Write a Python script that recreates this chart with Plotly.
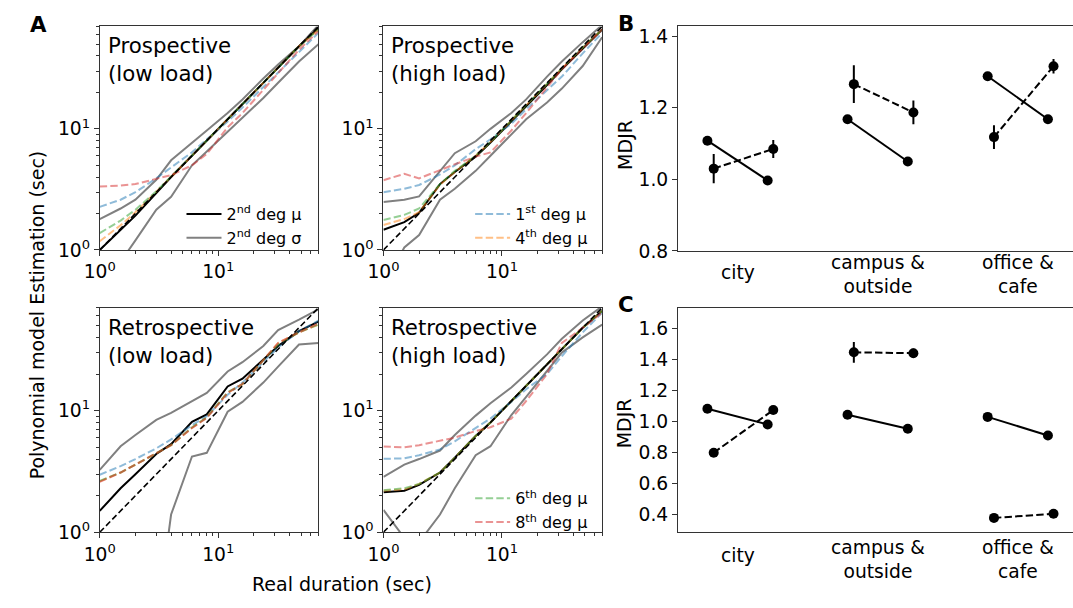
import plotly.graph_objects as go

W, H = 1073, 608
FONT = "DejaVu Sans"

# ---------------- data ----------------
durations = [1, 1.5, 2, 3, 4, 6, 8, 12, 16, 24, 32, 48, 70]

# Prospective (low load)
pl_mu2 = [1.0, 1.45, 1.92, 2.95, 4.0, 6.0, 8.0, 12.0, 16.0, 24.0, 32.0, 48.0, 68.0]
pl_hi = [1.8, 2.2, 2.6, 3.8, 5.5, 7.6, 9.7, 13.5, 17.5, 26.0, 34.0, 48.0, 72.0]
pl_lo = [0.5, 0.8, 1.2, 2.15, 2.75, 5.0, 6.5, 9.5, 12.2, 18.0, 24.0, 36.0, 50.0]
pl_d1 = [2.27, 2.6, 3.0, 3.9, 4.8, 6.4, 8.2, 11.5, 15.0, 22.0, 29.0, 43.0, 62.0]
pl_d4 = [1.18, 1.6, 2.05, 3.0, 4.0, 6.0, 8.0, 12.0, 16.0, 24.0, 32.0, 48.0, 66.0]
pl_d6 = [1.38, 1.75, 2.15, 3.05, 4.05, 6.0, 8.0, 12.0, 16.0, 24.0, 32.0, 48.0, 66.0]
pl_d8 = [3.34, 3.4, 3.5, 3.85, 4.15, 5.0, 6.2, 10.3, 13.5, 21.0, 29.0, 45.0, 64.0]

# Prospective (high load)
ph_mu2 = [1.47, 1.7, 2.03, 3.5, 4.4, 5.9, 7.7, 11.5, 15.5, 23.0, 31.0, 46.0, 66.0]
ph_hi = [2.49, 2.6, 2.77, 4.5, 6.3, 7.9, 10.0, 13.5, 17.5, 27.0, 36.0, 52.0, 72.0]
ph_lo = [0.5, 1.05, 1.33, 2.6, 3.2, 4.5, 6.0, 9.0, 12.0, 16.5, 21.5, 33.0, 57.0]
ph_d1 = [3.0, 3.2, 3.44, 4.2, 5.0, 6.8, 8.2, 11.0, 14.5, 21.0, 27.0, 42.0, 62.0]
ph_d4 = [1.61, 1.8, 2.05, 3.45, 4.4, 6.0, 7.8, 11.8, 15.8, 23.5, 31.5, 47.0, 66.0]
ph_d6 = [1.77, 1.95, 2.2, 3.5, 4.5, 6.0, 7.8, 11.8, 15.8, 23.5, 31.5, 47.0, 66.0]
ph_d8 = [3.77, 4.25, 3.9, 4.6, 5.1, 5.9, 6.4, 9.7, 13.5, 22.0, 31.0, 46.0, 66.0]

# Retrospective (low load)
rl_mu2 = [1.5, 2.3, 3.0, 4.4, 5.3, 8.1, 9.3, 15.8, 18.3, 26.0, 34.0, 45.0, 54.0]
rl_hi = [3.26, 5.1, 6.3, 8.4, 9.6, 12.0, 14.0, 21.0, 25.0, 34.0, 46.0, 56.0, 68.0]
rl_lo = [0.05, 0.08, 0.1, 0.17, 1.4, 4.2, 4.5, 9.8, 11.8, 17.0, 23.0, 35.0, 36.0]
rl_d1 = [2.97, 3.5, 4.0, 4.9, 5.8, 7.6, 9.0, 13.5, 17.0, 25.0, 33.0, 45.0, 55.0]
rl_d4 = [2.62, 3.1, 3.6, 4.5, 5.2, 7.2, 8.8, 14.0, 16.5, 26.0, 36.0, 44.0, 51.0]
rl_d6 = [2.65, 3.1, 3.6, 4.5, 5.2, 7.3, 8.8, 14.2, 16.5, 26.0, 35.0, 44.0, 51.0]
rl_d8 = [2.6, 3.1, 3.6, 4.5, 5.2, 7.2, 8.7, 14.0, 16.6, 26.0, 36.0, 44.0, 52.0]

# Retrospective (high load)
rh_mu2 = [2.13, 2.2, 2.45, 3.1, 4.1, 6.2, 8.0, 12.0, 16.0, 24.0, 32.0, 48.0, 66.0]
rh_hi = [2.85, 3.6, 4.0, 4.7, 6.3, 9.1, 11.5, 15.5, 20.0, 29.0, 39.0, 55.0, 72.0]
rh_lo = [1.53, 0.9, 0.83, 1.4, 2.3, 4.3, 5.1, 9.2, 13.0, 21.0, 30.0, 40.0, 51.0]
rh_d1 = [4.02, 4.05, 4.3, 4.8, 5.6, 7.2, 8.6, 11.8, 15.0, 20.0, 28.0, 44.0, 64.0]
rh_d4 = [2.2, 2.25, 2.5, 3.1, 4.1, 6.2, 8.0, 12.0, 16.0, 24.0, 32.0, 48.0, 66.0]
rh_d6 = [2.22, 2.3, 2.5, 3.1, 4.1, 6.2, 8.0, 12.0, 16.0, 24.0, 32.0, 48.0, 66.0]
rh_d8 = [5.07, 5.0, 5.2, 5.7, 6.0, 6.8, 7.3, 8.6, 12.0, 20.0, 36.0, 48.0, 64.0]

identity = [1, 70]

panel_titles = ["Prospective<br>(low load)", "Prospective<br>(high load)",
                "Retrospective<br>(low load)", "Retrospective<br>(high load)"]

# Panels B and C
categories = ["city", "campus &<br>outside", "office &<br>cafe"]
b_solid_left = [1.108, 1.168, 1.288]
b_solid_right = [0.997, 1.050, 1.168]
b_dash_left = [1.030, 1.266, 1.118]
b_dash_left_err = [0.041, 0.053, 0.033]
b_dash_right = [1.085, 1.187, 1.316]
b_dash_right_err = [0.025, 0.033, 0.020]

c_solid_left = [1.083, 1.045, 1.031]
c_solid_right = [0.982, 0.955, 0.911]
c_dash_left = [0.800, 1.448, 0.379]
c_dash_left_err = [0.020, 0.067, 0.006]
c_dash_right = [1.075, 1.442, 0.406]
c_dash_right_err = [0.010, 0.030, 0.006]

# ---------------- styling ----------------
C_BLUE = "rgba(31,119,180,0.5)"
C_ORANGE = "rgba(255,127,14,0.5)"
C_GREEN = "rgba(44,160,44,0.5)"
C_RED = "rgba(214,39,40,0.5)"
C_GRAY = "#808080"
DASH = "7.4px,3.2px"
SPINE = "#333333"


def xd(a, b):
    return [a / W, b / W]


def yd(top, bottom):
    return [1 - bottom / H, 1 - top / H]


fig = go.Figure()

panels = [
    (pl_mu2, pl_hi, pl_lo, pl_d1, pl_d4, pl_d6, pl_d8),
    (ph_mu2, ph_hi, ph_lo, ph_d1, ph_d4, ph_d6, ph_d8),
    (rl_mu2, rl_hi, rl_lo, rl_d1, rl_d4, rl_d6, rl_d8),
    (rh_mu2, rh_hi, rh_lo, rh_d1, rh_d4, rh_d6, rh_d8),
]

for i, (mu2, hi, lo, d1, d4, d6, d8) in enumerate(panels):
    ax = "" if i == 0 else str(i + 1)
    xa, ya = "x" + ax, "y" + ax
    fig.add_trace(go.Scatter(x=durations, y=hi, mode="lines", xaxis=xa, yaxis=ya,
                             line=dict(color=C_GRAY, width=2),
                             name="2<sup>nd</sup> deg σ", showlegend=(i == 0), legend="legend",
                             legendrank=2))
    fig.add_trace(go.Scatter(x=durations, y=lo, mode="lines", xaxis=xa, yaxis=ya,
                             line=dict(color=C_GRAY, width=2), showlegend=False))
    fig.add_trace(go.Scatter(x=durations, y=mu2, mode="lines", xaxis=xa, yaxis=ya,
                             line=dict(color="black", width=2),
                             name="2<sup>nd</sup> deg μ", showlegend=(i == 0), legend="legend",
                             legendrank=1))
    for vals, col, nm, lg, show in [
        (d1, C_BLUE, "1<sup>st</sup> deg μ", "legend2", i == 1),
        (d4, C_ORANGE, "4<sup>th</sup> deg μ", "legend2", i == 1),
        (d6, C_GREEN, "6<sup>th</sup> deg μ", "legend3", i == 3),
        (d8, C_RED, "8<sup>th</sup> deg μ", "legend3", i == 3),
    ]:
        fig.add_trace(go.Scatter(x=durations, y=vals, mode="lines", xaxis=xa, yaxis=ya,
                                 line=dict(color=col, width=2, dash=DASH),
                                 name=nm, showlegend=show, legend=lg))
    fig.add_trace(go.Scatter(x=identity, y=identity, mode="lines", xaxis=xa, yaxis=ya,
                             line=dict(color="black", width=1.6, dash="6px,3px"),
                             showlegend=False))

# Panels B and C
OFF_SOLID = 0.215
OFF_DASH_L, OFF_DASH_R = -0.17, 0.255
for ax, sl, sr, dl, dle, dr, dre in [
    ("5", b_solid_left, b_solid_right, b_dash_left, b_dash_left_err, b_dash_right, b_dash_right_err),
    ("6", c_solid_left, c_solid_right, c_dash_left, c_dash_left_err, c_dash_right, c_dash_right_err),
]:
    for k in range(len(categories)):
        fig.add_trace(go.Scatter(x=[k - OFF_SOLID, k + OFF_SOLID], y=[sl[k], sr[k]],
                                 mode="lines+markers", xaxis="x" + ax, yaxis="y" + ax,
                                 line=dict(color="black", width=2),
                                 marker=dict(color="black", size=10),
                                 showlegend=False))
        fig.add_trace(go.Scatter(x=[k + OFF_DASH_L, k + OFF_DASH_R], y=[dl[k], dr[k]],
                                 mode="lines+markers", xaxis="x" + ax, yaxis="y" + ax,
                                 line=dict(color="black", width=2, dash="7.4px,3.2px"),
                                 marker=dict(color="black", size=10),
                                 error_y=dict(type="data", array=[dle[k], dre[k]], width=0,
                                              thickness=2, color="black"),
                                 showlegend=False))

minor_log = [2, 3, 4, 5, 6, 7, 8, 9, 20, 30, 40, 50, 60, 70]
log_common = dict(type="log", range=[0, 1.8451], tickmode="array", tickvals=[1, 10],
                  ticktext=["10<sup>0</sup>", "10<sup>1</sup>"],
                  ticks="outside", ticklen=5, tickwidth=1, tickcolor=SPINE,
                  showline=True, linecolor=SPINE, linewidth=1, mirror=True,
                  showgrid=False, zeroline=False,
                  tickfont=dict(family=FONT, size=18.7, color="black"),
                  minor=dict(tickmode="array", tickvals=minor_log, ticks="outside",
                             ticklen=3, tickwidth=0.8, tickcolor=SPINE, showgrid=False))

boxes = [((85, 307), (26, 254)), ((373, 595), (26, 254)),
         ((85, 307), (313, 542)), ((373, 595), (313, 542))]
layout = {}
for i, ((x0, x1), (t, b)) in enumerate(boxes):
    ax = "" if i == 0 else str(i + 1)
    layout["xaxis" + ax] = dict(log_common, domain=xd(x0, x1), anchor="y" + ax)
    layout["yaxis" + ax] = dict(log_common, domain=yd(t, b), anchor="x" + ax)

cat_x = dict(range=[-0.425, 2.394], tickmode="array", tickvals=[0, 1, 2],
             ticktext=["", "", ""],
             ticks="", showline=True, linecolor=SPINE, linewidth=1, mirror=True,
             showgrid=False, zeroline=False,
             tickfont=dict(family=FONT, size=18.7, color="black"))
val_y = dict(ticks="outside", ticklen=5, tickwidth=1, tickcolor=SPINE,
             showline=True, linecolor=SPINE, linewidth=1, mirror=False,
             showgrid=False, zeroline=False, tickformat=".1f",
             tickfont=dict(family=FONT, size=18.7, color="black"))
layout["xaxis5"] = dict(cat_x, domain=xd(672, 1073), anchor="y5")
layout["yaxis5"] = dict(val_y, domain=yd(26, 255), anchor="x5", range=[0.8, 1.427],
                        tickvals=[0.8, 1.0, 1.2, 1.4])
layout["xaxis6"] = dict(cat_x, domain=xd(672, 1073), anchor="y6")
layout["yaxis6"] = dict(val_y, domain=yd(313, 542), anchor="x6", range=[0.286, 1.735],
                        tickvals=[0.4, 0.6, 0.8, 1.0, 1.2, 1.4, 1.6])

annotations = []
title_pos = [(91, 31), (379, 31), (91, 318), (379, 318)]
for (px, py), txt in zip(title_pos, panel_titles):
    annotations.append(dict(text=txt, x=px / W, y=1 - py / H, xref="paper", yref="paper",
                            xanchor="left", yanchor="top", showarrow=False, align="left",
                            font=dict(family=FONT, size=21.3, color="black")))
# category labels (single-line label sits lower, as in the original)
for ax, top_single, top_multi in [("x5", 264, 254), ("x6", 553, 545)]:
    for k, cat in enumerate(categories):
        top = top_single if "<br>" not in cat else top_multi
        annotations.append(dict(text=cat, x=k, y=1 - top / H, xref=ax, yref="paper",
                                xanchor="center", yanchor="top", showarrow=False,
                                align="center",
                                font=dict(family=FONT, size=18.7, color="black")))
for txt, px, py in [("A", 23, 24), ("B", 619, 23), ("C", 619, 310)]:
    annotations.append(dict(text="<b>%s</b>" % txt, x=px / W, y=1 - py / H, xref="paper",
                            yref="paper", xanchor="center", yanchor="middle", showarrow=False,
                            font=dict(family=FONT, size=21.3, color="black")))
annotations.append(dict(text="Polynomial model Estimation (sec)", x=21 / W, y=1 - 320 / H,
                        xref="paper", yref="paper", textangle=-90, showarrow=False,
                        xanchor="center", yanchor="middle",
                        font=dict(family=FONT, size=19, color="black")))
annotations.append(dict(text="Real duration (sec)", x=331 / W, y=1 - 595 / H,
                        xref="paper", yref="paper", showarrow=False,
                        xanchor="center", yanchor="middle",
                        font=dict(family=FONT, size=19, color="black")))
for py in (147, 431):
    annotations.append(dict(text="MDJR", x=618 / W, y=1 - py / H, xref="paper", yref="paper",
                            textangle=-90, showarrow=False, xanchor="center", yanchor="middle",
                            font=dict(family=FONT, size=19, color="black")))

leg_common = dict(bgcolor="rgba(0,0,0,0)", borderwidth=0, xanchor="left", yanchor="top",
                  font=dict(family=FONT, size=16, color="black"), tracegroupgap=0,
                  itemwidth=35)
layout["legend"] = dict(leg_common, x=168 / W, y=1 - 200 / H)
layout["legend2"] = dict(leg_common, x=461 / W, y=1 - 200 / H)
layout["legend3"] = dict(leg_common, x=461 / W, y=1 - 490 / H)

fig.update_layout(width=W, height=H, margin=dict(l=0, r=0, t=0, b=0),
                  paper_bgcolor="white", plot_bgcolor="white",
                  font=dict(family=FONT, color="black"),
                  annotations=annotations, **layout)

fig.write_html("out.html")
